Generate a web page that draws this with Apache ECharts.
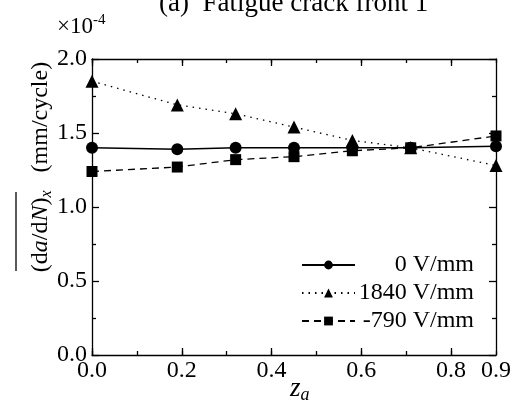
<!DOCTYPE html>
<html>
<head>
<meta charset="utf-8">
<script src="https://cdn.jsdelivr.net/npm/echarts@6/dist/echarts.min.js"></script>
<style>
  html, body { margin: 0; padding: 0; background: #fff; }
  #chart { width: 514px; height: 406px; }
</style>
</head>
<body>
<div id="chart"></div>
<script>
// positions along the crack front (z_a)
const za = [0, 0.19, 0.32, 0.45, 0.58, 0.71, 0.9];
// mean crack growth rate, x1e-4 mm/cycle
const rate0 = [1.40, 1.39, 1.40, 1.40, 1.40, 1.40, 1.41];
const rate1840 = [1.85, 1.69, 1.63, 1.54, 1.45, 1.40, 1.28];
const rateMinus790 = [1.24, 1.27, 1.32, 1.34, 1.38, 1.40, 1.48];
const xLabels = [0, 0.2, 0.4, 0.6, 0.8, 0.9];
const seriesNames = ["0 V/mm", "1840 V/mm", "-790 V/mm"];

const font = "Liberation Serif";
const chart = echarts.init(document.getElementById("chart"));

function pairs(ys) {
  return za.map((x, i) => [x, ys[i]]);
}

const frameX = (pos, labels) => ({
  type: "value",
  position: pos,
  min: 0,
  max: 0.9,
  interval: 0.1,
  axisLine: { show: true, onZero: false, lineStyle: { color: "#000", width: 1.3 } },
  axisTick: { show: true, inside: true, length: 7, customValues: [0, 0.2, 0.4, 0.6, 0.8], lineStyle: { color: "#000", width: 1.3 } },
  axisLabel: labels ? {
    show: true, customValues: xLabels, margin: 4,
    fontFamily: font, fontSize: 24, color: "#000",
    formatter: v => v.toFixed(1)
  } : { show: false },
  splitLine: { show: false }
});
const minorX = pos => ({
  type: "value",
  position: pos,
  min: 0,
  max: 0.9,
  interval: 0.1,
  axisLine: { show: false, onZero: false },
  axisTick: { show: true, inside: true, length: 4, lineStyle: { color: "#000", width: 1.3 } },
  axisLabel: { show: false },
  splitLine: { show: false }
});
const frameY = (pos, labels) => ({
  type: "value",
  position: pos,
  min: 0,
  max: 2,
  interval: 0.5,
  axisLine: { show: true, onZero: false, lineStyle: { color: "#000", width: 1.3 } },
  axisTick: { show: true, inside: true, length: 7, lineStyle: { color: "#000", width: 1.3 } },
  minorTick: { show: true, splitNumber: 2, length: 4, lineStyle: { color: "#000", width: 1.3 } },
  axisLabel: labels ? {
    show: true, margin: 5,
    fontFamily: font, fontSize: 24, color: "#000",
    formatter: v => v.toFixed(1)
  } : { show: false },
  splitLine: { show: false }
});

const symbols = ["circle", "triangle", "rect"];
const sizes = [12, 13, 11];
const dashes = ["solid", [1.5, 5], [7, 5]];
const values = [rate0, rate1840, rateMinus790];

chart.setOption({
  animation: false,
  grid: { left: 92, right: 17, top: 59, bottom: 51 },
  xAxis: [frameX("bottom", true), frameX("top", false), minorX("bottom"), minorX("top")],
  yAxis: [frameY("left", true), frameY("right", false)],
  legend: {
    orient: "vertical",
    left: 296,
    top: 248,
    itemWidth: 53,
    itemHeight: 11,
    itemGap: 4,
    data: seriesNames,
    formatter: name => "{r|" + name + "}",
    textStyle: {
      fontFamily: font, fontSize: 24, color: "#000",
      rich: { r: { fontFamily: font, fontSize: 24, width: 114, align: "right" } }
    }
  },
  series: seriesNames.map((name, i) => ({
    name: name,
    type: "line",
    data: pairs(values[i]),
    symbol: symbols[i],
    symbolSize: sizes[i],
    itemStyle: { color: "#000" },
    lineStyle: { color: "#000", width: i === 0 ? 1.5 : 1.3, type: dashes[i] },
    z: 3 - i
  })),
  graphic: [
    {
      type: "text", left: 159, top: -10,
      style: { text: "(a)  Fatigue crack front 1", font: "27px Liberation Serif", fill: "#000" }
    },
    {
      type: "text", left: 57, top: 13,
      style: {
        text: "×10{s|-4}", font: "23px Liberation Serif", fill: "#000",
        rich: { s: { fontSize: 15, fontFamily: font, verticalAlign: "top", padding: [0, 0, 12, 0] } }
      }
    },
    {
      type: "text", x: 41, y: 167, rotation: Math.PI / 2,
      style: {
        text: "(d{i|a}/d{i|N}){s|x}   (mm/cycle)",
        font: "24px Liberation Serif", fill: "#000",
        align: "center", verticalAlign: "middle",
        rich: {
          i: { fontStyle: "italic", fontSize: 24, fontFamily: font },
          s: { fontStyle: "italic", fontSize: 16, fontFamily: font, padding: [11, 0, 0, 0] }
        }
      }
    },
    {
      type: "line",
      shape: { x1: 16, y1: 192, x2: 16, y2: 271 },
      style: { stroke: "#000", lineWidth: 1.3 }
    },
    {
      type: "text", left: 290, top: 375,
      style: {
        text: "{i|z}{s|a}", fill: "#000",
        rich: {
          i: { fontStyle: "italic", fontSize: 27, fontFamily: font },
          s: { fontStyle: "italic", fontSize: 18, fontFamily: font, padding: [13, 0, 0, 0] }
        }
      }
    }
  ]
});
</script>
</body>
</html>
